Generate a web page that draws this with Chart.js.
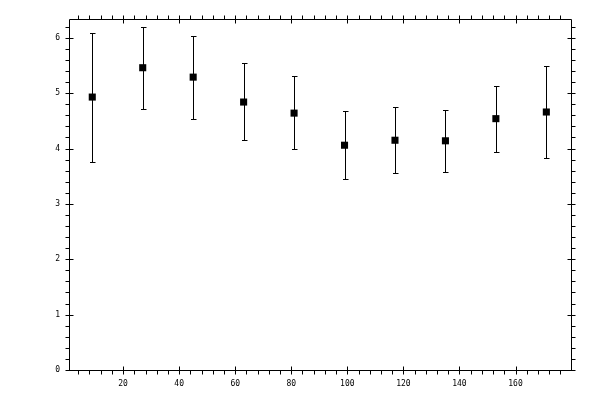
<!DOCTYPE html>
<html>
<head>
<meta charset="utf-8">
<script src="https://cdn.jsdelivr.net/npm/chart.js@4/dist/chart.umd.min.js"></script>
<style>
  html, body { margin: 0; padding: 0; background: #fff; }
  #wrap { width: 600px; height: 400px; }
</style>
</head>
<body>
<div id="wrap"><canvas id="plot" width="600" height="400"></canvas></div>
<script>
// data
const xValues = [9, 27, 45, 63, 81, 99, 117, 135, 153, 171];
const means   = [4.93, 5.46, 5.29, 4.84, 4.64, 4.06, 4.15, 4.14, 4.54, 4.66];
const upper   = [6.08, 6.20, 6.04, 5.55, 5.31, 4.67, 4.75, 4.69, 5.13, 5.49];
const lower   = [3.76, 4.72, 4.53, 4.15, 3.99, 3.45, 3.56, 3.58, 3.94, 3.83];

const xMajor = [20, 40, 60, 80, 100, 120, 140, 160];
const yMajor = [0, 1, 2, 3, 4, 5, 6];
const xMinorStep = 4;
const yMinorStep = 0.2;

const crisp = v => Math.round(v) + 0.5;

// error bars + boxed axes with ticks on all four sides
const boxAxes = {
    id: 'boxAxes',
    beforeDatasetsDraw(chart) {
        const ctx = chart.ctx;
        const xs = chart.scales.x, ys = chart.scales.y;
        ctx.save();
        ctx.strokeStyle = '#000';
        ctx.lineWidth = 1;
        for (let i = 0; i < xValues.length; i++) {
            const px = crisp(xs.getPixelForValue(xValues[i]));
            const top = crisp(ys.getPixelForValue(upper[i]));
            const bot = crisp(ys.getPixelForValue(lower[i]));
            ctx.beginPath();
            ctx.moveTo(px, top); ctx.lineTo(px, bot);
            ctx.moveTo(px - 2.5, top); ctx.lineTo(px + 3, top);
            ctx.moveTo(px - 2.5, bot); ctx.lineTo(px + 3, bot);
            ctx.stroke();
        }
        ctx.restore();
    },
    afterDraw(chart) {
        const ctx = chart.ctx;
        const a = chart.chartArea;
        const xs = chart.scales.x, ys = chart.scales.y;
        const L = crisp(a.left), R = crisp(a.right), T = crisp(a.top), B = crisp(a.bottom);
        ctx.save();
        ctx.strokeStyle = '#000';
        ctx.lineWidth = 1;
        ctx.beginPath();
        ctx.rect(L, T, R - L, B - T);

        // x ticks, bottom and top
        for (let v = xMinorStep; v < xs.max; v += xMinorStep) {
            if (v < xs.min) continue;
            const px = crisp(xs.getPixelForValue(v));
            const major = xMajor.includes(Math.round(v));
            ctx.moveTo(px, B + 4); ctx.lineTo(px, major ? B - 4 : B);
            ctx.moveTo(px, T - 4); ctx.lineTo(px, major ? T + 4 : T);
        }
        // y ticks, left and right
        for (let k = 0; k * yMinorStep <= ys.max; k++) {
            const v = +(k * yMinorStep).toFixed(2);
            const py = crisp(ys.getPixelForValue(v));
            const major = yMajor.includes(v);
            ctx.moveTo(L - 4, py); ctx.lineTo(major ? L + 4 : L, py);
            ctx.moveTo(R + 4, py); ctx.lineTo(major ? R - 4 : R, py);
        }
        ctx.stroke();
        ctx.restore();
    }
};

const ctx = document.getElementById('plot').getContext('2d');

const chart = new Chart(ctx, {
    type: 'scatter',
    data: {
        datasets: [{
            label: 'mean',
            data: xValues.map((x, i) => ({ x: x, y: means[i] })),
            pointStyle: 'rect',
            pointRadius: 5,
            pointHoverRadius: 5,
            pointBackgroundColor: '#000',
            pointBorderWidth: 0,
            showLine: false
        }]
    },
    options: {
        responsive: false,
        animation: false,
        events: [],
        layout: { padding: { top: 19, right: 29, left: 0, bottom: 0 } },
        plugins: {
            legend: { display: false },
            tooltip: { enabled: false }
        },
        scales: {
            x: {
                type: 'linear',
                min: 0.7,
                max: 179.8,
                grid: { display: false, drawTicks: false },
                border: { display: false },
                ticks: {
                    padding: 9,
                    color: '#000',
                    font: { family: 'DejaVu Sans Mono', size: 8 }
                },
                afterBuildTicks: s => { s.ticks = xMajor.map(v => ({ value: v })); },
                afterFit: s => { s.height = 30; }
            },
            y: {
                type: 'linear',
                min: 0,
                max: 6.34,
                grid: { display: false, drawTicks: false },
                border: { display: false },
                ticks: {
                    padding: 9,
                    color: '#000',
                    font: { family: 'DejaVu Sans Mono', size: 8 }
                },
                afterBuildTicks: s => { s.ticks = yMajor.map(v => ({ value: v })); },
                afterFit: s => { s.width = 69; }
            }
        }
    },
    plugins: [boxAxes]
});
</script>
</body>
</html>
